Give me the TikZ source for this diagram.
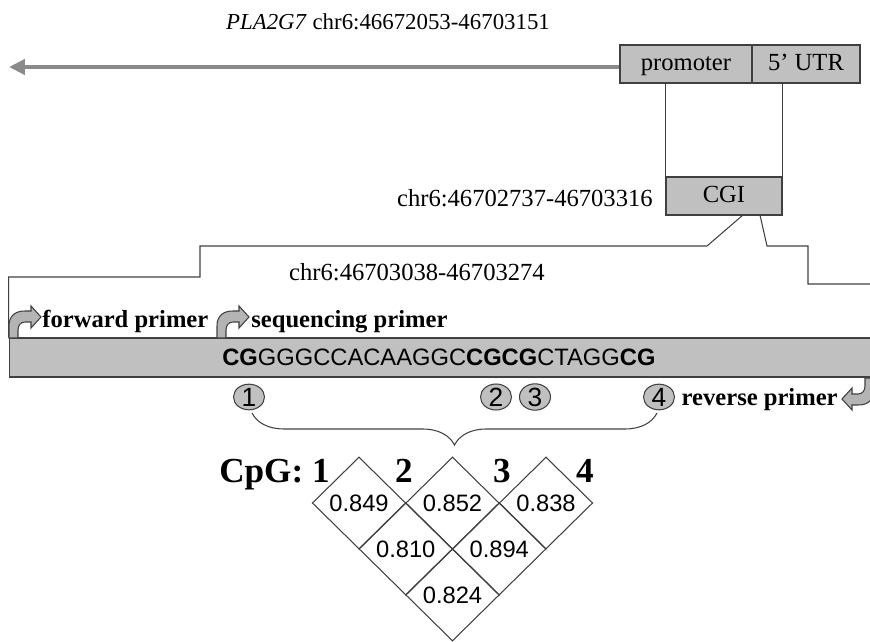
\documentclass[tikz,border=0pt]{standalone}
\usepackage{fontspec}
\setmainfont{Liberation Serif}
\setsansfont{Liberation Sans}
\usetikzlibrary{shapes.geometric,decorations.pathreplacing,arrows.meta}

\definecolor{boxgray}{HTML}{C0C0C0}
\definecolor{edgegray}{HTML}{404040}
\definecolor{genegray}{HTML}{8A8A8A}
\definecolor{turngray}{HTML}{B4B4B4}

\tikzset{
  region/.style={draw=edgegray, fill=boxgray, inner sep=0pt, line width=0.6pt,
    text height=10pt, text depth=3pt, font=\fontsize{14}{16}\selectfont},
  link/.style={draw=edgegray, line width=0.6pt},
  chrtext/.style={inner sep=0pt, font=\fontsize{14}{16}\selectfont},
  primer/.style={inner sep=0pt, font=\fontsize{14}{16}\selectfont\bfseries},
  site/.style={ellipse, draw=edgegray, fill=boxgray, line width=0.6pt,
    minimum width=0.62cm, minimum height=0.46cm, inner sep=0pt,
    font=\sffamily\fontsize{15}{15}\selectfont},
  cell/.style={diamond, draw=edgegray, line width=0.6pt, inner sep=0pt,
    minimum width=1.87cm, minimum height=1.84cm,
    font=\sffamily\fontsize{13.5}{14}\selectfont},
  cpg/.style={inner sep=0pt, font=\fontsize{20}{22}\selectfont\bfseries},
  turn/.pic={
    \draw[draw=edgegray, fill=turngray, line width=0.6pt]
      (0,0) -- (0,-12) .. controls (0,-22) and (6,-27) .. (16,-27)
      -- (22,-27) -- (22,-32) -- (32,-21) -- (22,-10) -- (22,-16)
      -- (16,-16) .. controls (12,-16) and (9,-13) .. (9,-8) -- (9,0) -- cycle;
  }
}

\begin{document}
\begin{tikzpicture}[x=0.02cm,y=-0.02cm]
\useasboundingbox (0,0) rectangle (870,642);

\node[inner sep=0pt, font=\fontsize{13}{15}\selectfont] (title) at (388,22)
  {\textit{PLA2G7} chr6:46672053-46703151};

\node[region, minimum width=2.64cm, minimum height=0.76cm] (prom) at (686,64) {promoter};
\node[region, minimum width=2.16cm, minimum height=0.76cm] (utr) at (806,64) {5' UTR};
\coordinate (geneend) at (9,67);
\draw[genegray, line width=2.8pt, -{Triangle[length=9pt,width=8.5pt]}]
  (prom.west |- geneend) -- (geneend);

\node[region, minimum width=2.32cm, minimum height=0.76cm] (cgi) at (724,196) {CGI};
\node[chrtext, anchor=east] (cgipos) at (653,198) {chr6:46702737-46703316};
\draw[link] (cgi.north west) -- (cgi.north west |- prom.south);
\draw[link] (cgi.north east) -- (cgi.north east |- utr.south);

\node[region, minimum width=17.3cm, minimum height=0.78cm] (seqbar) at (441.5,357.5) {};
\node[inner sep=0pt, anchor=west, font=\sffamily\fontsize{13.5}{14}\selectfont] (seq) at (222,357)
  {\textbf{CG}GGGCCACAAGGC\textbf{CGCG}CTAGG\textbf{CG}};
\node[chrtext] (amppos) at (417,272) {chr6:46703038-46703274};

\coordinate (cgil) at (743,215);
\coordinate (cgir) at (760,215);
\draw[link] (cgil) -- (707,246) -- (200,246) -- (200,277) -- (seqbar.north west |- 0,277)
  -- (seqbar.north west);
\draw[link] (cgir) -- (767,246) -- (808,246) -- (808,284) -- (872,284);

\pic at (9,338) {turn};
\pic at (217,338) {turn};
\pic[rotate=180] at (874,378) {turn};
\node[primer, anchor=base west] (fwd) at (42,328) {forward primer};
\node[primer, anchor=base west] (sqp) at (251,328) {sequencing primer};
\node[primer, anchor=base east] (rev) at (838,405) {reverse primer};

\foreach \n/\x in {1/249, 2/496, 3/535, 4/659}
{
   \node[site] (site\n) at (\x,397) {\n};
}
\draw[link, decorate, decoration={brace, amplitude=0.64cm}] (657,413) -- (252,413);

\node[cpg, anchor=base east] (cpg1) at (330,482) {CpG: 1};
\foreach \n/\x in {2/404, 3/502, 4/585}
{
   \node[cpg, anchor=base] (cpg\n) at (\x,482) {\n};
}

\foreach \r/\c/\v in {0/0/0.849, 0/1/0.852, 0/2/0.838, 1/0/0.810, 1/1/0.894, 2/0/0.824}
{
   \node[cell] (cell\r\c) at (359+46.75*\r+93.5*\c, 503+46*\r) {\v};
}

\end{tikzpicture}
\end{document}
